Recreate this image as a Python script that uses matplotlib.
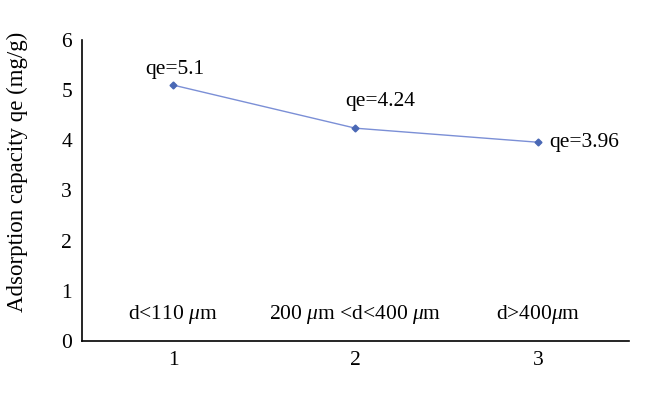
import numpy as np
import matplotlib.pyplot as plt

plt.rcParams['font.family'] = 'Liberation Serif'
plt.rcParams['mathtext.fontset'] = 'custom'
plt.rcParams['mathtext.it'] = 'Liberation Serif:italic'
plt.rcParams['mathtext.rm'] = 'Liberation Serif'

# data
x = [1, 2, 3]
qe = [5.1, 4.24, 3.96]
qe_labels = ["qe=5.1", "qe=4.24", "qe=3.96"]
size_labels = [r"d<110 $\mu$m", r"200 $\mu$m <d<400 $\mu$m", r"d>400$\mu$m"]

fig = plt.figure(figsize=(6.6, 3.95), dpi=100)
ax = fig.add_axes([0.124, 0.137, 0.829, 0.762])

ax.plot(x, qe, color="#7b8fd6", lw=1.0, marker="D", ms=3.5,
        markerfacecolor="#4a68b5", markeredgecolor="#4a68b5")

# value labels
ax.annotate(qe_labels[0], (x[0], qe[0]), xytext=(1, 11), textcoords="offset points",
            ha="center", va="center", fontsize=15.5)
ax.annotate(qe_labels[1], (x[1], qe[1]), xytext=(18, 19), textcoords="offset points",
            ha="center", va="center", fontsize=15.5)
ax.annotate(qe_labels[2], (x[2], qe[2]), xytext=(8, 0), textcoords="offset points",
            ha="left", va="center", fontsize=15.5)

for xi, lab in zip(x, size_labels):
    ax.text(xi, 0.52, lab, ha="center", va="center", fontsize=15.5)

ax.set_xlim(0.5, 3.5)
ax.set_ylim(0, 6)
ax.set_xticks(x)
ax.set_yticks(range(0, 7))
ax.tick_params(length=0, labelsize=15.5, pad=7)
ax.spines['top'].set_visible(False)
ax.spines['right'].set_visible(False)
ax.spines['left'].set_linewidth(1.2)
ax.spines['bottom'].set_linewidth(1.2)
ax.set_ylabel("Adsorption capacity qe (mg/g)", fontsize=16.5)
ax.yaxis.set_label_coords(-0.098, 0.56)

fig.savefig("out.png", dpi=100)
